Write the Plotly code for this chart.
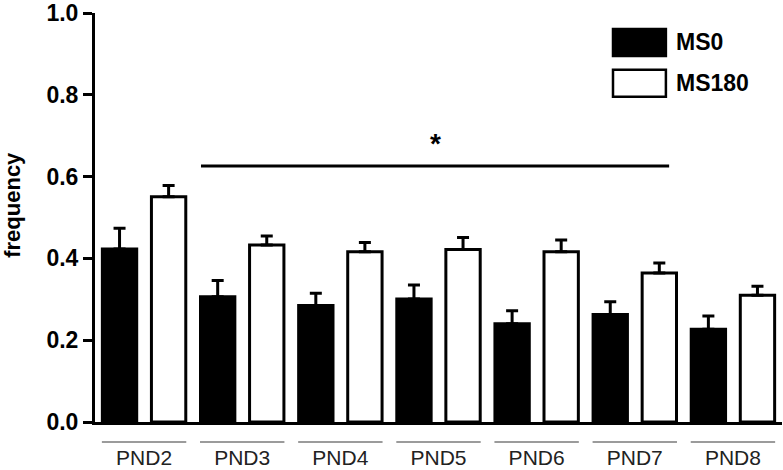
import plotly.graph_objects as go

categories = ["PND2", "PND3", "PND4", "PND5", "PND6", "PND7", "PND8"]
ms0_values = [0.423, 0.306, 0.285, 0.301, 0.240, 0.263, 0.227]
ms0_errors = [0.051, 0.040, 0.030, 0.034, 0.032, 0.031, 0.032]
ms180_values = [0.551, 0.433, 0.416, 0.422, 0.416, 0.364, 0.310]
ms180_errors = [0.027, 0.022, 0.023, 0.029, 0.029, 0.025, 0.022]
series_names = ["MS0", "MS180"]
y_ticks = [0.0, 0.2, 0.4, 0.6, 0.8, 1.0]
sig_start, sig_end, sig_y, sig_label = "PND3", "PND7", 0.626, "*"

FONT = "Liberation Sans, Arial, sans-serif"

fig = go.Figure()
fig.add_trace(go.Bar(
    x=categories, y=ms0_values, name=series_names[0],
    marker=dict(color="black", line=dict(color="black", width=3)),
    error_y=dict(type="data", array=ms0_errors, arrayminus=[0] * len(ms0_errors),
                 symmetric=False, color="black", thickness=3, width=6),
    showlegend=False,
))
fig.add_trace(go.Bar(
    x=categories, y=ms180_values, name=series_names[1],
    marker=dict(color="white", line=dict(color="black", width=3)),
    error_y=dict(type="data", array=ms180_errors, arrayminus=[0] * len(ms180_errors),
                 symmetric=False, color="black", thickness=3, width=6),
    showlegend=False,
))

shapes = []
# group underline lines
for i, _ in enumerate(categories):
    shapes.append(dict(type="line", xref="x", yref="paper", x0=i - 0.43, x1=i + 0.43,
                       y0=-0.049, y1=-0.049, line=dict(color="#7a7a7a", width=1.5)))
# significance bar
i0 = categories.index(sig_start)
i1 = categories.index(sig_end)
shapes.append(dict(type="line", xref="x", yref="y", x0=i0 - 0.42, x1=i1 + 0.35,
                   y0=sig_y, y1=sig_y, line=dict(color="black", width=3)))
# custom legend swatches
legend_fills = ["black", "white"]
legend_y = [(0.895, 0.961), (0.795, 0.861)]
for fill, (ya, yb) in zip(legend_fills, legend_y):
    shapes.append(dict(type="rect", xref="paper", yref="paper", x0=0.754, x1=0.831,
                       y0=ya, y1=yb, fillcolor=fill, line=dict(color="black", width=2.5)))

annotations = [
    dict(x=(i0 - 0.42 + i1 + 0.35) / 2, y=sig_y, xref="x", yref="y", text=sig_label,
         showarrow=False, yanchor="bottom", yshift=5,
         font=dict(family=FONT, size=28, color="black", weight="bold")),
    dict(x=-0.12, y=0.53, xref="paper", yref="paper", text="frequency",
         showarrow=False, textangle=-90, xanchor="center", yanchor="middle",
         font=dict(family=FONT, size=22, color="black", weight="bold")),
]
for name, (ya, yb) in zip(series_names, legend_y):
    annotations.append(dict(x=0.843, y=(ya + yb) / 2, xref="paper", yref="paper", text=name,
                            showarrow=False, xanchor="left", yanchor="middle",
                            font=dict(family=FONT, size=23, color="black", weight="bold")))

fig.update_layout(
    width=783, height=470,
    margin=dict(l=95, r=1, t=13, b=48, autoexpand=False),
    paper_bgcolor="white", plot_bgcolor="white",
    barmode="group", bargap=0.0, bargroupgap=0.3,
    shapes=shapes, annotations=annotations,
    xaxis=dict(
        type="category", range=[-0.5, len(categories) - 0.5], automargin=False,
        showline=True, linecolor="black", linewidth=3, ticks="", showgrid=False,
        ticklabelstandoff=15,
        tickfont=dict(family=FONT, size=21, color="#222"),
    ),
    yaxis=dict(
        range=[0, 1.0], tickvals=y_ticks, tickformat=".1f", automargin=False,
        showline=True, linecolor="black", linewidth=3, ticks="outside", ticklen=9,
        tickwidth=3, tickcolor="black", showgrid=False, zeroline=False,
        tickfont=dict(family=FONT, size=23, color="black", weight="bold"),
    ),
)

fig.write_html("out.html", config={"displayModeBar": False},
               post_script="document.body.style.margin='0';document.body.style.overflow='hidden';")
